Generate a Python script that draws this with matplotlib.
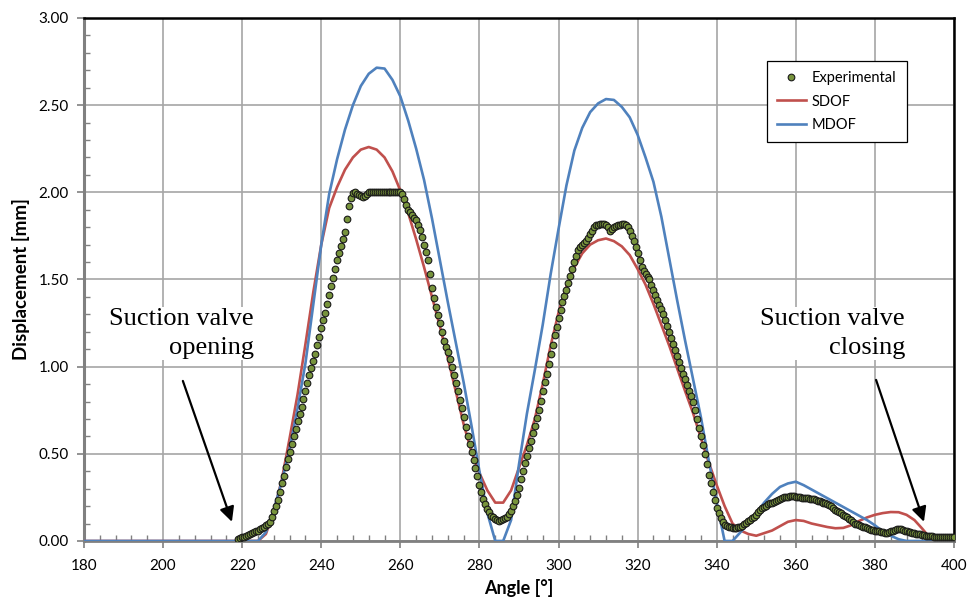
import matplotlib.pyplot as plt
import numpy as np
from matplotlib.ticker import MultipleLocator, FormatStrFormatter

plt.rcParams['font.family'] = ['Lato', 'DejaVu Sans']

# experimental points, one every 0.5 deg from 219 to 400
exp_start, exp_step = 219.0, 0.5
exp_disp = [
    0.010, 0.015, 0.020, 0.025, 0.030, 0.035, 0.040, 0.045, 0.050, 0.055,
    0.060, 0.068, 0.075, 0.083, 0.090, 0.100, 0.110, 0.140, 0.170, 0.200,
    0.235, 0.280, 0.330, 0.375, 0.425, 0.470, 0.510, 0.555, 0.600, 0.645,
    0.690, 0.730, 0.770, 0.815, 0.860, 0.905, 0.950, 0.990, 1.030, 1.075,
    1.125, 1.170, 1.220, 1.265, 1.310, 1.360, 1.410, 1.460, 1.510, 1.560,
    1.610, 1.650, 1.690, 1.730, 1.770, 1.845, 1.920, 1.970, 1.995, 2.000,
    1.990, 1.985, 1.980, 1.975, 1.980, 1.990, 2.000, 2.000, 2.000, 2.000,
    2.000, 2.000, 2.000, 2.000, 2.000, 2.000, 2.000, 2.000, 2.000, 2.000,
    2.000, 2.000, 2.000, 1.990, 1.960, 1.930, 1.900, 1.885, 1.870, 1.855,
    1.840, 1.815, 1.785, 1.745, 1.700, 1.655, 1.610, 1.530, 1.450, 1.395,
    1.340, 1.295, 1.250, 1.200, 1.150, 1.115, 1.085, 1.045, 1.000, 0.950,
    0.905, 0.860, 0.810, 0.760, 0.710, 0.655, 0.600, 0.555, 0.510, 0.465,
    0.420, 0.370, 0.320, 0.280, 0.240, 0.210, 0.185, 0.165, 0.145, 0.135,
    0.125, 0.120, 0.117, 0.120, 0.125, 0.130, 0.140, 0.155, 0.170, 0.200,
    0.230, 0.265, 0.305, 0.355, 0.400, 0.450, 0.490, 0.535, 0.575, 0.620,
    0.660, 0.705, 0.750, 0.805, 0.860, 0.910, 0.960, 1.015, 1.070, 1.125,
    1.180, 1.230, 1.280, 1.325, 1.370, 1.405, 1.440, 1.480, 1.520, 1.560,
    1.600, 1.635, 1.670, 1.685, 1.700, 1.710, 1.720, 1.740, 1.760, 1.780,
    1.800, 1.810, 1.815, 1.818, 1.820, 1.818, 1.815, 1.800, 1.780, 1.790,
    1.800, 1.805, 1.810, 1.815, 1.820, 1.818, 1.815, 1.800, 1.780, 1.750,
    1.720, 1.685, 1.650, 1.610, 1.570, 1.550, 1.530, 1.515, 1.500, 1.470,
    1.440, 1.410, 1.380, 1.355, 1.330, 1.300, 1.270, 1.235, 1.200, 1.165,
    1.130, 1.095, 1.060, 1.025, 0.990, 0.960, 0.930, 0.895, 0.860, 0.830,
    0.800, 0.750, 0.700, 0.650, 0.600, 0.550, 0.500, 0.440, 0.380, 0.330,
    0.280, 0.235, 0.190, 0.160, 0.130, 0.110, 0.090, 0.085, 0.080, 0.078,
    0.075, 0.075, 0.075, 0.078, 0.080, 0.088, 0.095, 0.105, 0.115, 0.122,
    0.130, 0.140, 0.150, 0.165, 0.180, 0.188, 0.195, 0.202, 0.210, 0.215,
    0.220, 0.225, 0.230, 0.235, 0.240, 0.245, 0.250, 0.252, 0.255, 0.258,
    0.260, 0.258, 0.255, 0.252, 0.250, 0.248, 0.245, 0.245, 0.245, 0.242,
    0.240, 0.238, 0.235, 0.232, 0.230, 0.225, 0.220, 0.215, 0.210, 0.205,
    0.200, 0.190, 0.180, 0.172, 0.165, 0.158, 0.150, 0.142, 0.135, 0.128,
    0.120, 0.110, 0.100, 0.095, 0.090, 0.085, 0.080, 0.078, 0.075, 0.070,
    0.065, 0.062, 0.060, 0.058, 0.055, 0.052, 0.050, 0.048, 0.045, 0.050,
    0.055, 0.060, 0.065, 0.070, 0.070, 0.068, 0.065, 0.060, 0.055, 0.052,
    0.050, 0.048, 0.045, 0.042, 0.040, 0.038, 0.035, 0.032, 0.030, 0.030,
    0.030, 0.028, 0.025, 0.025, 0.025, 0.024, 0.022, 0.021, 0.020, 0.020,
    0.020, 0.020, 0.020,
]
exp_angle = exp_start + exp_step * np.arange(len(exp_disp))

# model curves: 180, then every 2 deg from 222 to 400
model_angle = [180] + list(range(222, 401, 2))
sdof = [
    0.0,
    0.0, 0.0, 0.04, 0.17, 0.35, 0.59, 0.84, 1.13, 1.43, 1.70,      # 222-240
    1.91, 2.03, 2.13, 2.20, 2.245, 2.26, 2.245, 2.20, 2.12, 2.01,  # 242-260
    1.88, 1.73, 1.57, 1.40, 1.23, 1.05, 0.86, 0.67, 0.51, 0.39,    # 262-280
    0.29, 0.22, 0.22, 0.29, 0.42, 0.55, 0.70, 0.90, 1.12, 1.31,    # 282-300
    1.46, 1.57, 1.65, 1.70, 1.725, 1.735, 1.72, 1.69, 1.64, 1.56,  # 302-320
    1.47, 1.36, 1.24, 1.12, 0.99, 0.86, 0.735, 0.59, 0.45, 0.32,   # 322-340
    0.20, 0.10, 0.06, 0.04, 0.03, 0.045, 0.06, 0.085, 0.11, 0.12,  # 342-360
    0.115, 0.10, 0.09, 0.08, 0.073, 0.075, 0.09, 0.115, 0.135, 0.15,  # 362-380
    0.16, 0.166, 0.165, 0.15, 0.12, 0.07, 0.015, 0.0, 0.0, 0.0,    # 382-400
]
mdof = [
    0.0,
    0.0, 0.0, 0.05, 0.18, 0.34, 0.53, 0.76, 1.02, 1.36, 1.70,      # 222-240
    1.99, 2.19, 2.36, 2.50, 2.61, 2.68, 2.715, 2.71, 2.645, 2.55,  # 242-260
    2.41, 2.25, 2.07, 1.85, 1.61, 1.37, 1.14, 0.91, 0.66, 0.40,    # 262-280
    0.16, 0.0, 0.0, 0.12, 0.44, 0.73, 0.98, 1.24, 1.53, 1.79,      # 282-300
    2.04, 2.24, 2.37, 2.46, 2.51, 2.535, 2.53, 2.49, 2.43, 2.33,   # 302-320
    2.20, 2.06, 1.86, 1.62, 1.38, 1.15, 0.93, 0.71, 0.46, 0.22,    # 322-340
    0.0, 0.0, 0.05, 0.10, 0.16, 0.22, 0.27, 0.31, 0.33, 0.34,      # 342-360
    0.32, 0.295, 0.27, 0.245, 0.22, 0.195, 0.17, 0.145, 0.12, 0.09,  # 362-380
    0.055, 0.03, 0.01, 0.0, 0.0, 0.0, 0.0, 0.0, 0.0, 0.0,          # 382-400
]

fig = plt.figure(figsize=(9.69, 6.06), dpi=100)
ax = fig.add_axes([0.0867, 0.1073, 0.8978, 0.863])

ax.plot(model_angle, sdof, color='#C0504D', lw=1.9, label='SDOF', zorder=3)
ax.plot(model_angle, mdof, color='#4F81BD', lw=1.9, label='MDOF', zorder=3)
ax.plot(exp_angle, exp_disp, linestyle='none', marker='o', markersize=4.8,
        markerfacecolor='#77933C', markeredgecolor='#1a1a1a', markeredgewidth=0.8,
        label='Experimental', zorder=4)

ax.set_xlim(180, 400)
ax.set_ylim(0, 3.0)
ax.xaxis.set_major_locator(MultipleLocator(20))
ax.xaxis.set_minor_locator(MultipleLocator(4))
ax.yaxis.set_major_locator(MultipleLocator(0.5))
ax.yaxis.set_minor_locator(MultipleLocator(0.1))
ax.yaxis.set_major_formatter(FormatStrFormatter('%.2f'))

ax.grid(True, which='major', color='#a6a6a6', lw=1.2)
ax.set_axisbelow(True)

ax.tick_params(which='major', direction='out', length=5, width=1.2, color='#808080',
               labelsize=11, pad=6)
ax.tick_params(which='minor', direction='in', length=4, width=1.0, color='#808080')
ax.tick_params(axis='x', which='major', pad=8)

ax.spines['left'].set_color('#808080')
ax.spines['left'].set_linewidth(2.2)
ax.spines['bottom'].set_color('#808080')
ax.spines['bottom'].set_linewidth(2.0)
ax.spines['top'].set_color('black')
ax.spines['top'].set_linewidth(1.8)
ax.spines['right'].set_color('black')
ax.spines['right'].set_linewidth(1.8)

ax.set_xlabel('Angle [°]', fontsize=13, fontweight='bold', labelpad=4)
ax.set_ylabel('Displacement [mm]', fontsize=13.5, fontweight='bold', labelpad=6)

handles, labels = ax.get_legend_handles_labels()
order = [2, 0, 1]
leg = ax.legend([handles[i] for i in order], [labels[i] for i in order],
                loc='upper right', bbox_to_anchor=(0.954, 0.932), fontsize=10.5,
                fancybox=False, framealpha=1, edgecolor='black', handlelength=2.0,
                borderpad=0.7, labelspacing=0.65, handletextpad=0.4)
leg.get_frame().set_linewidth(0.9)

text_kw = dict(ha='right', va='center', fontsize=19, family='Liberation Serif',
               multialignment='right', linespacing=1.4, zorder=5,
               bbox=dict(facecolor='white', edgecolor='none', pad=1))
ax.text(223.0, 1.19, 'Suction valve\nopening', **text_kw)
ax.text(387.6, 1.19, 'Suction valve\nclosing', **text_kw)

arrow_kw = dict(arrowstyle='-|>', color='black', lw=1.6, mutation_scale=22,
                shrinkA=0, shrinkB=0)
ax.annotate('', xy=(217.4, 0.11), xytext=(205.0, 0.918), arrowprops=arrow_kw, zorder=5)
ax.annotate('', xy=(392.4, 0.11), xytext=(380.3, 0.924), arrowprops=arrow_kw, zorder=5)

plt.savefig('out.png', dpi=100)
plt.close()
